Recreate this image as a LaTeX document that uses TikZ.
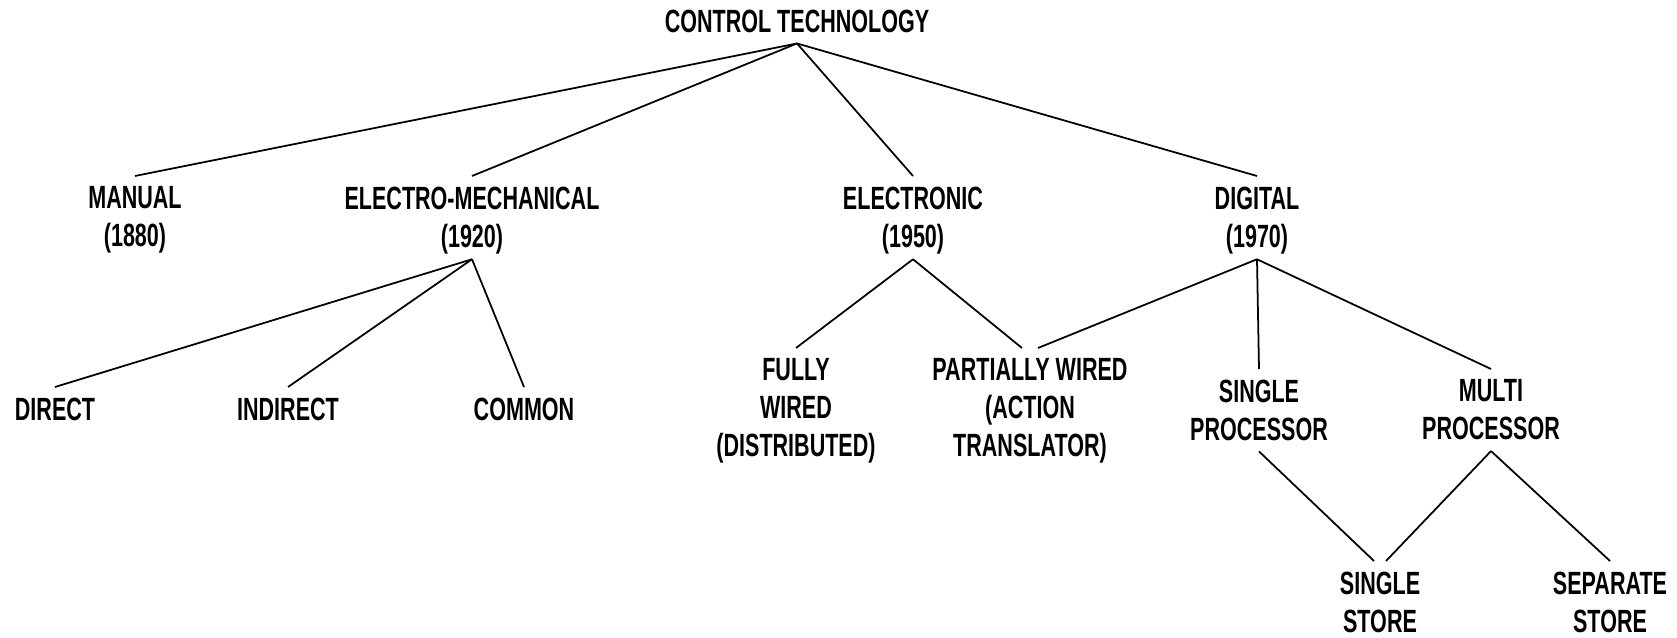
\documentclass[tikz,border=0pt]{standalone}
\usepackage{fontspec}
\setmainfont{Liberation Sans}[FakeStretch=0.67]
\usetikzlibrary{positioning}

\begin{document}
\begin{tikzpicture}[
        x=0.02cm, y=-0.02cm,
        tree node/.style={anchor=north, align=center, inner xsep=0pt, inner ysep=0.21cm,
            font=\fontsize{18.3pt}{21.6pt}\selectfont\bfseries},
        tree edge/.style={draw, line width=1pt}
    ]
    \useasboundingbox (0,0) rectangle (1677,638);

    % --- Root ---
    \node[tree node] (ctrl) at (797,-1) {CONTROL TECHNOLOGY};

    % --- Main branches ---
    \node[tree node] (manual) at (135,176) {MANUAL\\(1880)};
    \node[tree node] (elmech) at (472,176) {ELECTRO-MECHANICAL\\(1920)};
    \node[tree node] (elec) at (913,176) {ELECTRONIC\\(1950)};
    \node[tree node] (digital) at (1257,176) {DIGITAL\\(1970)};

    % --- Second level ---
    \node[tree node] (direct) at (55,387) {DIRECT};
    \node[tree node] (indirect) at (288,387) {INDIRECT};
    \node[tree node] (common) at (524,387) {COMMON};
    \node[tree node] (fully) at (796,348) {FULLY\\WIRED\\(DISTRIBUTED)};
    \node[tree node] (partial) at (1030,348) {PARTIALLY WIRED\\(ACTION\\TRANSLATOR)};
    \node[tree node] (sproc) at (1259,369) {SINGLE\\PROCESSOR};
    \node[tree node] (mproc) at (1491,369) {MULTI\\PROCESSOR};

    % --- Stores ---
    \node[tree node] (sstore) at (1380,561) {SINGLE\\STORE};
    \node[tree node] (sepstore) at (1610,561) {SEPARATE\\STORE};

    % --- Edges ---
    \foreach \child in {manual, elmech, elec, digital}
        \draw[tree edge] (ctrl.south) -- (\child.north);
    \foreach \child in {direct, indirect, common}
        \draw[tree edge] ([yshift=0.11cm]elmech.south) -- (\child.north);
    \draw[tree edge] ([yshift=0.11cm]elec.south) -- (fully.north);
    \draw[tree edge] ([yshift=0.11cm]elec.south) -- ([xshift=-0.16cm]partial.north);
    \foreach \child in {sproc, mproc}
        \draw[tree edge] ([yshift=0.11cm]digital.south) -- (\child.north);
    \draw[tree edge] ([yshift=0.11cm]digital.south) -- ([xshift=0.16cm]partial.north);
    \draw[tree edge] (sproc.south) -- ([xshift=-0.12cm]sstore.north);
    \draw[tree edge] (mproc.south) -- ([xshift=0.12cm]sstore.north);
    \draw[tree edge] (mproc.south) -- (sepstore.north);

\end{tikzpicture}
\end{document}
